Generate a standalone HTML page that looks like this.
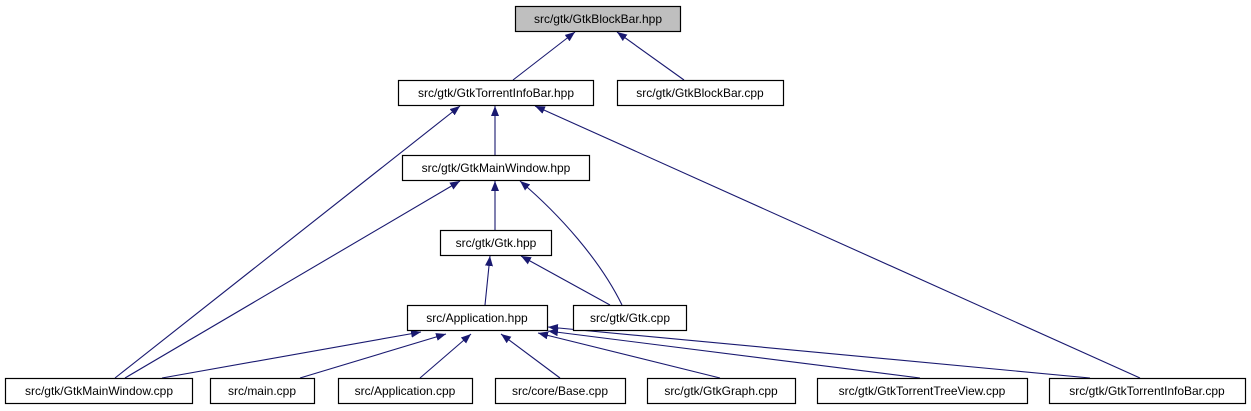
<!DOCTYPE html>
<html><head><meta charset="utf-8"><style>
html,body{margin:0;padding:0;background:#fff;}
svg{display:block}
text{font-family:"Liberation Sans",Arial,sans-serif;font-size:12px;fill:#000}
</style></head><body>
<svg width="1251" height="411" viewBox="0 0 1251 411" xmlns="http://www.w3.org/2000/svg">
<defs>
<marker id="a" markerWidth="10" markerHeight="8" refX="10" refY="4" orient="auto" markerUnits="userSpaceOnUse">
<path d="M0,0 L10,4 L0,8 z" fill="#191970"/>
</marker>
</defs>
<g stroke="#191970" stroke-width="1.1" fill="none" marker-end="url(#a)">
<path d="M513,80 L575,32"/>
<path d="M684,80 L617,32"/>
<path d="M495,155 L495,106"/>
<path d="M115,378 L460,106"/>
<path d="M1140,378 L535,106"/>
<path d="M495,230 L495,181"/>
<path d="M125,378 L460,181"/>
<path d="M622,305 C600,260 560,215 520,181"/>
<path d="M485,305 L490,256"/>
<path d="M610,305 L521,256"/>
<path d="M162,378 L421,332"/>
<path d="M300,378 L446,334"/>
<path d="M420,378 L471,334"/>
<path d="M560,378 L501,334"/>
<path d="M720,378 L538,333"/>
<path d="M920,378 L548,331"/>
<path d="M1090,378 L548,327"/>
</g>
<g stroke="#000" stroke-width="1.2">
<rect x="515.5" y="6.5" width="165" height="25" fill="#bfbfbf"/>
<rect x="398.5" y="80.5" width="195" height="25" fill="#fff"/>
<rect x="617.5" y="80.5" width="166" height="25" fill="#fff"/>
<rect x="402.5" y="155.5" width="187" height="25" fill="#fff"/>
<rect x="440.5" y="230.5" width="111" height="25" fill="#fff"/>
<rect x="407.5" y="305.5" width="140" height="25" fill="#fff"/>
<rect x="573.5" y="305.5" width="113" height="25" fill="#fff"/>
<rect x="5.5" y="378.5" width="187" height="25" fill="#fff"/>
<rect x="210.5" y="378.5" width="104" height="25" fill="#fff"/>
<rect x="338.5" y="378.5" width="134" height="25" fill="#fff"/>
<rect x="495.5" y="378.5" width="130" height="25" fill="#fff"/>
<rect x="647.5" y="378.5" width="148" height="25" fill="#fff"/>
<rect x="817.5" y="378.5" width="210" height="25" fill="#fff"/>
<rect x="1049.5" y="378.5" width="196" height="25" fill="#fff"/>
</g>
<g text-anchor="middle">
<text x="598" y="23">src/gtk/GtkBlockBar.hpp</text>
<text x="496" y="97">src/gtk/GtkTorrentInfoBar.hpp</text>
<text x="700" y="97">src/gtk/GtkBlockBar.cpp</text>
<text x="496" y="172">src/gtk/GtkMainWindow.hpp</text>
<text x="496" y="247">src/gtk/Gtk.hpp</text>
<text x="477" y="322">src/Application.hpp</text>
<text x="630" y="322">src/gtk/Gtk.cpp</text>
<text x="99" y="395">src/gtk/GtkMainWindow.cpp</text>
<text x="262" y="395">src/main.cpp</text>
<text x="405" y="395">src/Application.cpp</text>
<text x="560" y="395">src/core/Base.cpp</text>
<text x="721" y="395">src/gtk/GtkGraph.cpp</text>
<text x="922" y="395">src/gtk/GtkTorrentTreeView.cpp</text>
<text x="1147" y="395">src/gtk/GtkTorrentInfoBar.cpp</text>
</g>
</svg>
</body></html>
